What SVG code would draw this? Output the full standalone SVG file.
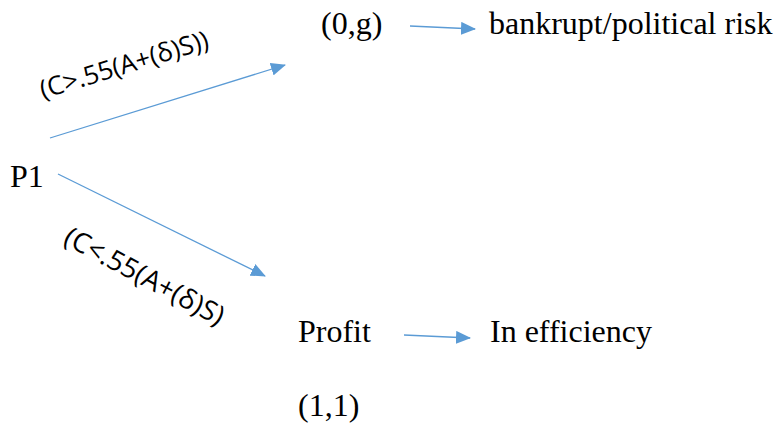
<svg xmlns="http://www.w3.org/2000/svg" width="778" height="427" viewBox="0 0 778 427">
  <style>
    .serif { font-family: "Liberation Serif", "Times New Roman", serif; font-size: 32px; fill: #000; }
    .cond { font-family: "Open Sans", "Noto Sans", sans-serif; font-size: 26px; fill: #000; }
    .edge { stroke: #5B9BD5; stroke-width: 1.3; fill: none; marker-end: url(#tri); }
  </style>
  <defs>
    <marker id="tri" markerUnits="userSpaceOnUse" markerWidth="15" markerHeight="13" refX="14" refY="6.5" orient="auto">
      <path d="M0,0 L15,6.5 L0,13 z" fill="#5B9BD5"/>
    </marker>
  </defs>
  <rect width="778" height="427" fill="#fff"/>

  <g id="connectors">
    <line class="edge" x1="50" y1="138" x2="285" y2="65"/>
    <line class="edge" x1="58" y1="174" x2="265" y2="276"/>
    <line class="edge" x1="410" y1="26" x2="475" y2="29"/>
    <line class="edge" x1="404" y1="335" x2="470" y2="338"/>
  </g>

  <g id="p1"><text class="serif" x="10" y="187">P1</text></g>
  <g id="outcome-bad"><text class="serif" x="321" y="34">(0,g)</text></g>
  <g id="bankrupt"><text class="serif" x="489" y="34">bankrupt/political risk</text></g>
  <g id="profit"><text class="serif" x="298" y="342">Profit</text></g>
  <g id="inefficiency"><text class="serif" x="490" y="342">In efficiency</text></g>
  <g id="outcome-good"><text class="serif" x="298" y="416">(1,1)</text></g>

  <g id="labels">
    <text class="cond" transform="translate(43,99) rotate(-17)">(C&gt;.55(A+(δ)S))</text>
    <text class="cond" style="font-size:27.5px" transform="translate(62,243) rotate(28)">(C&lt;.55(A+(δ)S)</text>
  </g>
</svg>
